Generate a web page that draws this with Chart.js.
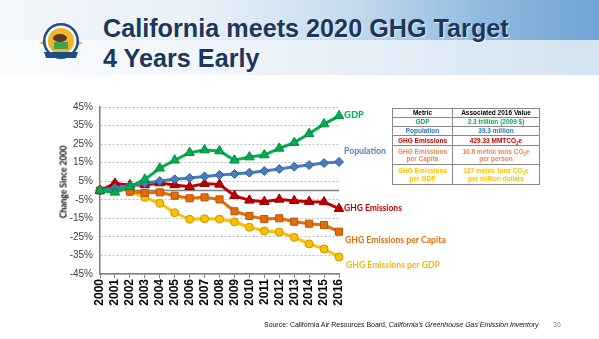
<!DOCTYPE html>
<html><head><meta charset="utf-8">
<script src="https://cdn.jsdelivr.net/npm/chart.js@4/dist/chart.umd.min.js"></script>
<style>
html,body{margin:0;padding:0;background:#fff;}
body{width:599px;height:339px;position:relative;overflow:hidden;font-family:"Liberation Sans",Arial,sans-serif;}
#band1{position:absolute;left:0;top:0;width:599px;height:40px;background:linear-gradient(to right,#f3f7fb 0%,#e7eff8 35%,#c6dbee 58%,#93bbe0 80%,#6ea3d3 100%);}
#band2{position:absolute;left:0;top:40px;width:599px;height:35px;background:linear-gradient(to right,#fafcfe 0%,#eef4fa 40%,#d3e3f1 100%);}
#title{position:absolute;left:103px;top:12.6px;font:bold 25px/30px "Liberation Sans",Arial,sans-serif;color:#1c375c;white-space:nowrap;text-shadow:1px 1px 1px rgba(255,255,255,.8);}
#title span{display:inline-block;}
#logo{position:absolute;left:36px;top:16px;}
canvas#c{position:absolute;left:0;top:0;}
.lbl{position:absolute;font:bold 9.5px/12px Lato,"Open Sans",sans-serif;white-space:nowrap;display:inline-block;}
#ytitle{position:absolute;left:64px;top:181.5px;font:bold 9px/11px Lato,"Open Sans",sans-serif;color:#000;white-space:nowrap;display:inline-block;transform:translate(-50%,-50%) rotate(-90deg);}
#tbl{position:absolute;left:392px;top:108px;width:147px;border-collapse:collapse;border:1.5px solid #444;font:bold 6.5px/7.5px "Liberation Sans",Arial,sans-serif;text-align:center;table-layout:fixed;background:#fff;}
#tbl td{border:1px solid #888;padding:0;vertical-align:middle;}
#tbl sub{font-size:4.5px;line-height:0;}
#src{position:absolute;left:264px;top:320px;font:7px/10px "Liberation Sans",Arial,sans-serif;color:#111;white-space:nowrap;display:inline-block;}
#pg{position:absolute;left:553px;top:320px;font:7px/10px "Liberation Sans",Arial,sans-serif;color:#888;}
</style>
</head>
<body>
<div id="band1"></div><div id="band2"></div>
<svg id="logo" width="50" height="50" viewBox="0 0 50 50">
  <path d="M3 27 Q12 22 14 27 Q12 31 3 27Z" fill="#e8a823"/>
  <path d="M47 27 Q38 22 36 27 Q38 31 47 27Z" fill="#e8a823"/>
  <circle cx="25" cy="25" r="18" fill="#1d4f86"/>
  <circle cx="25" cy="25" r="15.5" fill="#f6f6f0"/>
  <circle cx="25" cy="25" r="13" fill="#f2b52a"/>
  <ellipse cx="24" cy="22" rx="7" ry="4" fill="#5a3a1e"/>
  <rect x="18" y="26" width="14" height="7" fill="#3fa34d"/>
  <path d="M8 36 L42 36 L40 42 L10 42 Z" fill="#1d4f86"/>
</svg>
<div id="title"><span id="t1">California meets 2020 GHG Target</span><br><span id="t2">4 Years Early</span></div>
<canvas id="c" width="599" height="339"></canvas>
<div id="ytitle">Change Since 2000</div>
<div class="lbl" id="l1" style="left:344px;top:109px;color:#00b050">GDP</div>
<div class="lbl" id="l2" style="left:344px;top:145px;color:#4f81bd">Population</div>
<div class="lbl" id="l3" style="left:344px;top:202px;color:#c00000">GHG Emissions</div>
<div class="lbl" id="l4" style="left:345px;top:234px;color:#e46c0a">GHG Emissions per Capita</div>
<div class="lbl" id="l5" style="left:346px;top:259px;color:#f5b800">GHG Emissions per GDP</div>
<table id="tbl">
  <colgroup><col style="width:60px"><col style="width:87px"></colgroup>
  <tr style="height:9px"><td style="color:#000">Metric</td><td style="color:#000">Associated 2016 Value</td></tr>
  <tr style="height:9px;color:#00b050"><td>GDP</td><td>2.3 trillion (2009 $)</td></tr>
  <tr style="height:9px;color:#2e75b6"><td>Population</td><td>39.3 million</td></tr>
  <tr style="height:10px;color:#c00000"><td>GHG Emissions</td><td>429.33 MMTCO<sub>2</sub>e</td></tr>
  <tr style="height:19px;color:#f4844a"><td>GHG Emissions<br>per Capita</td><td>10.8 metric tons CO<sub>2</sub>e<br>per person</td></tr>
  <tr style="height:20px;color:#ffc000"><td>GHG Emissions<br>per GDP</td><td>187 metric tons CO<sub>2</sub>e<br>per million dollars</td></tr>
</table>
<div id="src">Source: California Air Resources Board, <i>California's Greenhouse Gas Emission Inventory</i></div>
<div id="pg">36</div>
<script>
const years = ['2000','2001','2002','2003','2004','2005','2006','2007','2008','2009','2010','2011','2012','2013','2014','2015','2016'];
const yTicks = [-45,-35,-25,-15,-5,5,15,25,35,45];
const gdp = [0,-1,2,6,12,16.3,20.4,21.8,21.3,16.3,18,19.1,22.7,25.8,30.6,35.8,40.2];
const population = [0,1.5,2.6,3.9,5.1,6,6.7,7.6,8.4,8.9,9.6,10.5,11.6,12.8,13.7,14.8,15.4];
const ghg = [0,3.8,3,3,4,3,2,3.7,3.3,-2.8,-5.3,-6,-4.8,-5.5,-6,-6.2,-9.8];
const ghgPerCapita = [0,2.5,-0.6,-1.3,-1,-2.8,-4.2,-3.7,-4.8,-11.2,-13.7,-15.4,-15,-16.8,-17.9,-18.6,-22.2];
const ghgPerGdp = [0,3.5,-0.5,-3.7,-6.9,-12,-15.5,-15.2,-15.4,-17,-19.8,-21.8,-22.4,-25.2,-28.8,-31.5,-35.8];

function fit(el, w){
  const cur = el.getBoundingClientRect().width;
  const fs = parseFloat(getComputedStyle(el).fontSize);
  el.style.fontSize = (fs * w / cur) + 'px';
  return fs * w / cur;
}
const tfs = fit(document.getElementById('t1'), 406);
document.getElementById('t2').style.fontSize = tfs + 'px';
fit(document.getElementById('l2'), 42);
fit(document.getElementById('l3'), 58);
fit(document.getElementById('l4'), 101);
fit(document.getElementById('l5'), 94);
fit(document.getElementById('src'), 275);
(function(){
  const el = document.getElementById('ytitle');
  const fs = parseFloat(getComputedStyle(el).fontSize);
  el.style.fontSize = (fs * 73 / el.offsetWidth) + 'px';
})();

const zeroLine = {
  id: 'zeroLine',
  beforeDatasetsDraw(chart){
    const {ctx, chartArea, scales} = chart;
    const y = scales.y.getPixelForValue(0);
    ctx.save();
    ctx.strokeStyle = '#7f7f7f';
    ctx.lineWidth = 1.5;
    ctx.beginPath();
    ctx.moveTo(chartArea.left, y);
    ctx.lineTo(chartArea.right, y);
    ctx.stroke();
    ctx.restore();
  }
};

function ds(data, color, edge, style, r){
  return {data, borderColor: color, backgroundColor: color, pointBackgroundColor: color,
    pointBorderColor: edge, pointBorderWidth: 1, pointStyle: style, pointRadius: r,
    borderWidth: 3, tension: 0, clip: false, fill: false};
}

new Chart(document.getElementById('c'), {
  type: 'line',
  data: {
    labels: years,
    datasets: [
      ds(gdp, '#00b050', '#00843c', 'triangle', 5.5),
      ds(population, '#4a7ebb', '#2f5f98', 'rectRot', 4.5),
      ds(ghg, '#c00000', '#850000', 'triangle', 5.5),
      ds(ghgPerCapita, '#e46c0a', '#b35400', 'rect', 5),
      ds(ghgPerGdp, '#ffc000', '#c89400', 'circle', 4)
    ]
  },
  options: {
    responsive: false,
    animation: false,
    events: [],
    layout: {padding: {left: 55, right: 260, top: 107, bottom: 20}},
    plugins: {legend: {display: false}, tooltip: {enabled: false}},
    scales: {
      x: {
        offset: false,
        afterFit(s){ s.height = 45; },
        grid: {drawOnChartArea: false, drawTicks: true, tickLength: 4, color: '#808080', lineWidth: 1},
        border: {display: true, color: '#808080', width: 1.5},
        ticks: {autoSkip: false, minRotation: 90, maxRotation: 90, padding: 1, color: '#000',
          font: {family: '"Liberation Sans", Arial, sans-serif', size: 12, weight: 'bold'}}
      },
      y: {
        min: -45, max: 45,
        afterFit(s){ s.width = 45; },
        afterBuildTicks(s){ s.ticks = yTicks.map(v => ({value: v})); },
        grid: {drawTicks: false, color: '#bdbdbd', lineWidth: 1},
        border: {display: true, color: '#808080', width: 1.5, dash: [2, 2]},
        ticks: {padding: 7, color: '#404040', callback: v => v + '%',
          font: {family: '"Liberation Sans", Arial, sans-serif', size: 10}},
        title: {display: false}
      }
    }
  },
  plugins: [zeroLine]
});
</script>
</body></html>
